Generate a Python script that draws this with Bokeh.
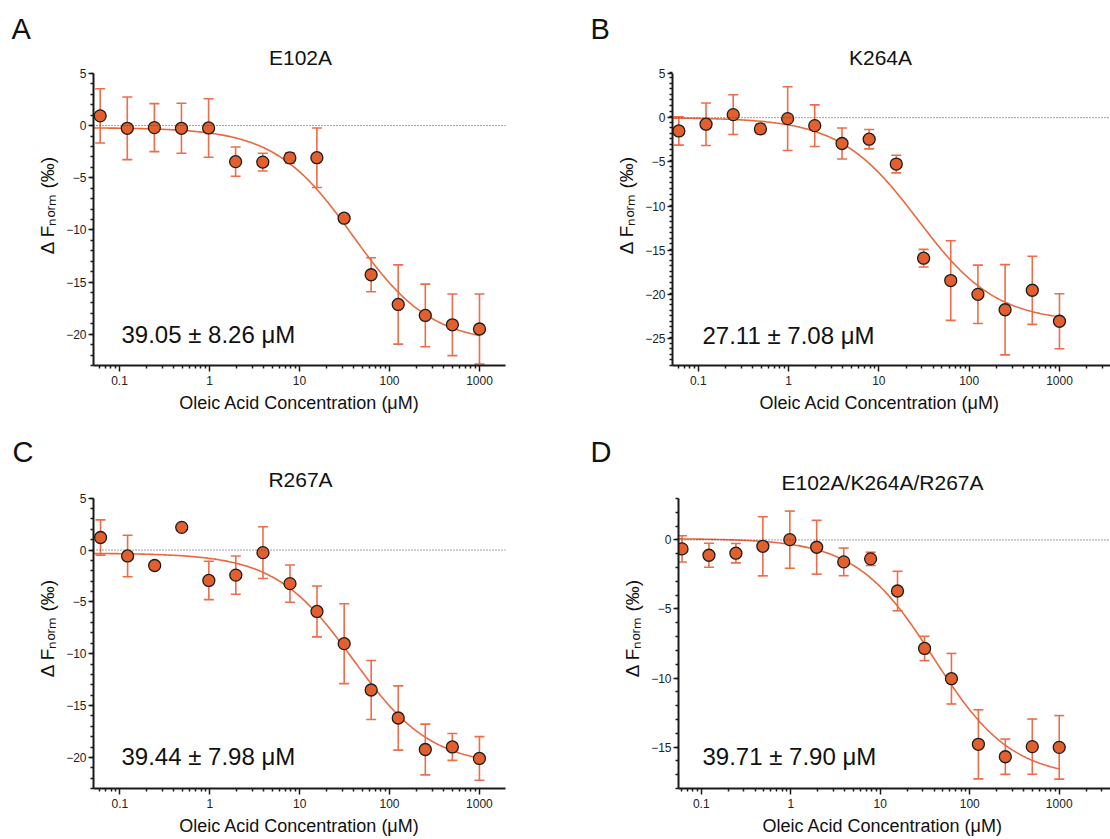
import numpy as np
from bokeh.plotting import figure
from bokeh.models import (Range1d, FixedTicker, CustomJSTickFormatter, Span,
                          Whisker, TeeHead, ColumnDataSource, Label, Title)
from bokeh.layouts import column, row
from bokeh.embed import file_html
from bokeh.resources import INLINE

# ---------------- data ----------------
conc = [0.061, 0.122, 0.244, 0.488, 0.977, 1.95, 3.91, 7.81, 15.6, 31.3, 62.5, 125, 250, 500, 1000]

letters = ["A", "B", "C", "D"]
titles = ["E102A", "K264A", "R267A", "E102A/K264A/R267A"]
kd_texts = ["39.05 ± 8.26 μM", "27.11 ± 7.08 μM", "39.44 ± 7.98 μM", "39.71 ± 7.90 μM"]
x_label = "Oleic Acid Concentration (μM)"
y_label = "Δ Fₙₒᵣₘ (‰)"

A_y = [0.93, -0.26, -0.2, -0.26, -0.23, -3.46, -3.5, -3.1, -3.08, -8.88, -14.3, -17.15, -18.2, -19.1, -19.5]
A_err = [2.6, 3.0, 2.3, 2.4, 2.8, 1.4, 0.85, 0.5, 2.85, 0.35, 1.63, 3.8, 3.0, 2.95, 3.35]
B_y = [-1.5, -0.74, 0.34, -1.27, -0.11, -0.9, -2.92, -2.43, -5.24, -15.88, -18.4, -19.96, -21.7, -19.5, -23.0]
B_err = [1.6, 2.4, 2.25, 0.55, 3.6, 2.35, 1.75, 1.1, 1.0, 1.0, 4.5, 3.3, 5.1, 3.85, 3.1]
C_y = [1.21, -0.57, -1.49, 2.19, -2.93, -2.42, -0.25, -3.24, -5.92, -9.03, -13.5, -16.2, -19.24, -18.99, -20.1]
C_err = [1.7, 2.0, 0.3, 0.3, 1.85, 1.85, 2.5, 1.8, 2.45, 3.85, 2.85, 3.1, 2.45, 1.3, 2.1]
D_y = [-0.65, -1.11, -0.96, -0.46, 0.02, -0.53, -1.59, -1.37, -3.7, -7.86, -10.05, -14.8, -15.7, -14.97, -15.02]
D_err = [0.95, 0.87, 0.7, 2.14, 2.07, 1.95, 1.0, 0.48, 1.43, 0.88, 1.83, 2.5, 1.28, 2.0, 2.3]

# fit parameters (Kd, unbound, bound)
fit_kd = [39.05, 27.11, 39.44, 39.71]
fit_top = [-0.2, 0.0, -0.3, 0.1]
fit_bottom = [-20.9, -23.1, -20.85, -17.24]

x_tick_labels = [0.1, 1, 10, 100, 1000]

# ---------------- style ----------------
FONT = "Liberation Sans"
MARKER_FILL = "#E3602E"
ERR_COLOR = "#EE6C48"
CURVE_COLOR = "#EA683D"
AX_COLOR = "#1a1a1a"
TXT = "#111111"

# layout geometry (page pixel coordinates)
# frame = axes box (left, top, width, height); ftop = top of drawing area (title room)
geom = [
    dict(canvas=(0, 0, 555, 419), frame=(93, 73, 412, 293), ftop=44, xlog=(-1.289, 3.289), yr=(-23, 5),
         yticks=[5, 0, -5, -10, -15, -20], yminor_step=1.0),
    dict(canvas=(555, 0, 555, 419), frame=(672, 72, 438, 293), ftop=43, xlog=(-1.285, 3.565), yr=(-28, 5),
         yticks=[5, 0, -5, -10, -15, -20, -25], yminor_step=0.625),
    dict(canvas=(0, 419, 555, 420), frame=(93, 495, 412, 293), ftop=464, xlog=(-1.293, 3.29), yr=(-23, 5),
         yticks=[5, 0, -5, -10, -15, -20], yminor_step=1.0),
    dict(canvas=(555, 419, 555, 420), frame=(678, 498, 432, 290), ftop=467, xlog=(-1.254, 3.573), yr=(-18, 3),
         yticks=[0, -5, -10, -15], yminor_step=1.0),
]
text_pos = [
    dict(letter=11, title=(300, 57.5), kd=(121, 335), xlab=("center", 0)),
    dict(letter=590, title=(880, 57), kd=(702, 335), xlab=("left", 759)),
    dict(letter=12, title=(300, 479), kd=(121, 756), xlab=("center", 0)),
    dict(letter=590, title=(882, 481.5), kd=(702, 756), xlab=("left", 762)),
]

ys = [A_y, B_y, C_y, D_y]
errs = [A_err, B_err, C_err, D_err]

minor_x = [m * 10.0 ** e for e in range(-2, 4) for m in range(2, 10)]


def make_panel(i):
    g = geom[i]
    cx, cy, W, H = g["canvas"]
    FL, FT, FW, FH = g["frame"]
    TOP = g["ftop"]
    lx0, lx1 = g["xlog"]
    y0, y1 = g["yr"]
    ppu = FH / (y1 - y0)
    ytop = y1 + (FT - TOP) / ppu
    p = figure(width=W, height=H, x_axis_type="log",
               x_range=Range1d(10 ** lx0, 10 ** lx1), y_range=Range1d(y0, ytop),
               output_backend="svg", toolbar_location=None, title=None,
               min_border_left=FL - cx, min_border_top=TOP - cy,
               min_border_right=(cx + W) - (FL + FW), min_border_bottom=(cy + H) - (FT + FH))
    p.outline_line_color = None
    p.xgrid.visible = False
    p.ygrid.visible = False
    p.background_fill_color = "white"
    p.border_fill_color = "white"

    # axes
    p.xaxis.ticker = FixedTicker(ticks=x_tick_labels, minor_ticks=minor_x)
    p.xaxis.formatter = CustomJSTickFormatter(code="return String(tick);")
    n = int(round((y1 - y0) / g["yminor_step"]))
    yminor = [y0 + k * g["yminor_step"] for k in range(n + 1)]
    p.yaxis.ticker = FixedTicker(ticks=g["yticks"], minor_ticks=yminor)
    p.yaxis.bounds = (y0, y1)
    for ax in (p.xaxis[0], p.yaxis[0]):
        ax.axis_line_width = 2
        ax.axis_line_color = AX_COLOR
        ax.major_tick_line_width = 1.5
        ax.major_tick_line_color = AX_COLOR
        ax.minor_tick_line_width = 1.5
        ax.minor_tick_line_color = AX_COLOR
        ax.major_tick_in = 0
        ax.minor_tick_in = 0
        ax.major_label_text_font = FONT
        ax.major_label_text_font_size = "12px"
        ax.major_label_text_color = "#222222"
    p.xaxis.axis_label = None
    p.xaxis.major_tick_out = 6
    p.xaxis.minor_tick_out = 3
    p.xaxis.major_label_standoff = 4
    p.yaxis.major_tick_out = 5
    p.yaxis.minor_tick_out = 3
    p.yaxis.major_label_standoff = 2
    p.yaxis.axis_label = y_label
    p.yaxis.axis_label_text_font = FONT
    p.yaxis.axis_label_text_font_size = "19px"
    p.yaxis.axis_label_text_font_style = "normal"
    p.yaxis.axis_label_text_color = TXT
    p.yaxis.axis_label_standoff = 5

    # zero line
    p.add_layout(Span(location=0, dimension="width", line_color="#444444",
                      line_dash="1 2", line_width=1))

    # fit curve
    xs = np.logspace(lx0, 3, 300)
    kd, top, bot = fit_kd[i], fit_top[i], fit_bottom[i]
    yfit = top + (bot - top) * xs / (xs + kd)
    p.line(xs, yfit, line_color=CURVE_COLOR, line_width=1.6)

    # error bars
    y = np.array(ys[i])
    e = np.array(errs[i])
    src = ColumnDataSource(dict(x=conc, y=ys[i], upper=list(y + e), lower=list(y - e)))
    w = Whisker(base="x", upper="upper", lower="lower", source=src, dimension="height",
                line_color=ERR_COLOR, line_width=1.6, level="underlay",
                upper_head=TeeHead(size=10, line_color=ERR_COLOR, line_width=1.6),
                lower_head=TeeHead(size=10, line_color=ERR_COLOR, line_width=1.6))
    p.add_layout(w)

    # points
    p.scatter("x", "y", source=src, size=12, fill_color=MARKER_FILL,
              line_color="#1c1c1c", line_width=1.3)

    tp = text_pos[i]

    def label(pos, text, size, align):
        X, Y = pos
        p.add_layout(Label(x=X - FL, y=(FT + FH) - Y, x_units="screen", y_units="screen",
                           text=text, text_font=FONT, text_font_size=size,
                           text_align=align, text_baseline="alphabetic", text_color=TXT))

    # Kd annotation and panel title (inside the drawing area)
    label(tp["kd"], kd_texts[i], "24px", "left")
    label(tp["title"], titles[i], "21px", "center")

    def title(text, size, where, align, left_px, standoff):
        off = 0 if align == "center" else left_px - FL
        t = Title(text=text, align=align, offset=off, text_font=FONT, text_font_size=size,
                  text_font_style="normal", text_color=TXT, standoff=standoff)
        p.add_layout(t, where)

    # panel letter above the drawing area
    title(letters[i], "29px", "above", "left", tp["letter"], 0)
    # x-axis label below the axis
    al, lp = tp["xlab"]
    title(x_label, "18px", "below", al, lp, 6)
    return p


panels = [make_panel(i) for i in range(4)]
layout = column(row(panels[0], panels[1]), row(panels[2], panels[3]))

open("out.html", "w").write(file_html(layout, INLINE))
